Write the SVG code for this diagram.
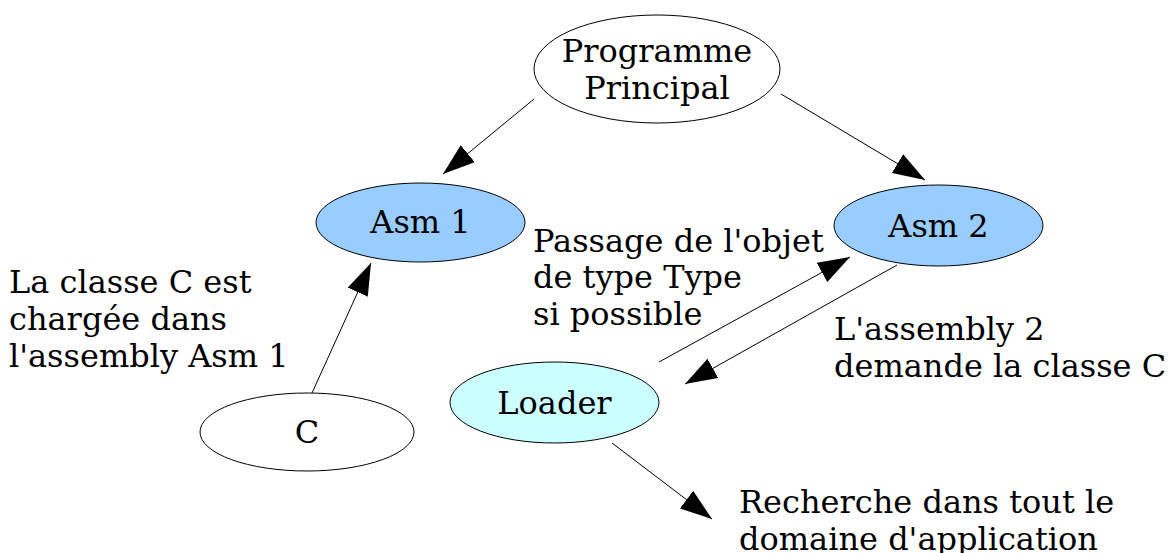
<svg xmlns="http://www.w3.org/2000/svg" width="1170" height="553" viewBox="0 0 1170 553">
  <style>
    .node { stroke: #000; stroke-width: 1; }
    .plain { fill: #fff; }
    .asm { fill: #99ccff; }
    .loader { fill: #ccffff; }
    text { font-family: "DejaVu Serif", "Liberation Serif", serif; font-size: 32px; fill: #000; }
    .c { text-anchor: middle; }
    .edge { stroke: #000; stroke-width: 1; fill: none; marker-end: url(#head); }
  </style>
  <defs>
    <marker id="head" viewBox="0 0 32 22" refX="32" refY="11" markerWidth="32" markerHeight="22" markerUnits="userSpaceOnUse" orient="auto">
      <path d="M0,0 L32,11 L0,22 z" fill="#000"/>
    </marker>
  </defs>

  <g id="connectors">
    <line class="edge" x1="534" y1="99" x2="443" y2="174"/>
    <line class="edge" x1="781" y1="94" x2="925" y2="180"/>
    <line class="edge" x1="312" y1="393" x2="371" y2="263"/>
    <line class="edge" x1="659" y1="362" x2="850" y2="257"/>
    <line class="edge" x1="897" y1="265" x2="685" y2="384"/>
    <line class="edge" x1="612" y1="443" x2="712" y2="519"/>
  </g>

  <g id="programme-principal">
    <ellipse class="node plain" cx="657" cy="69" rx="123" ry="54"/>
    <text class="c" x="657" y="62">Programme</text>
    <text class="c" x="657" y="99">Principal</text>
  </g>

  <g id="asm1">
    <ellipse class="node asm" cx="420.5" cy="222.5" rx="104.5" ry="39.5"/>
    <text class="c" x="420.5" y="233">Asm 1</text>
  </g>

  <g id="asm2">
    <ellipse class="node asm" cx="938.5" cy="225.5" rx="104.5" ry="40.5"/>
    <text class="c" x="938.5" y="237">Asm 2</text>
  </g>

  <g id="loader">
    <ellipse class="node loader" cx="554.5" cy="402.5" rx="104.5" ry="40.5"/>
    <text class="c" x="554.5" y="414">Loader</text>
  </g>

  <g id="classe-c">
    <ellipse class="node plain" cx="307" cy="432" rx="107" ry="39"/>
    <text class="c" x="307" y="443">C</text>
  </g>

  <g id="labels">
    <text x="9" y="293">La classe C est</text>
    <text x="9" y="330">chargée dans</text>
    <text x="9" y="367">l'assembly Asm 1</text>

    <text x="533" y="252">Passage de l'objet</text>
    <text x="533" y="288">de type Type</text>
    <text x="533" y="325">si possible</text>

    <text x="834" y="340">L'assembly 2</text>
    <text x="834" y="377">demande la classe C</text>

    <text x="739" y="513">Recherche dans tout le</text>
    <text x="739" y="550">domaine d'application</text>
  </g>
</svg>
